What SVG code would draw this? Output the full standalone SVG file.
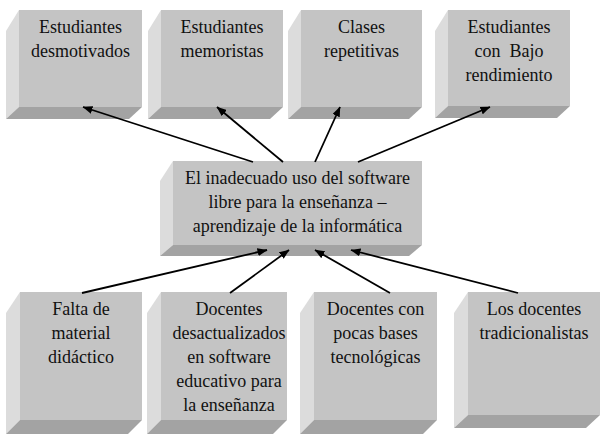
<svg xmlns="http://www.w3.org/2000/svg" width="601" height="441" viewBox="0 0 601 441">
<style>
.front{fill:#c4c4c4}
.left{fill:#dcdcdc}
.bottom{fill:#a3a3a3}
text{font-family:"Liberation Serif","Times New Roman",serif;font-size:18px;fill:#111;text-anchor:middle;white-space:pre}
.conn line{stroke:#000;stroke-width:1.8;marker-end:url(#ah)}
</style>
<defs>
<marker id="ah" viewBox="0 0 10 8" refX="9.5" refY="4" markerWidth="10" markerHeight="8" markerUnits="userSpaceOnUse" orient="auto">
<path d="M0,0 L10,4 L0,8 Z" fill="#000"/>
</marker>
</defs>
<rect width="601" height="441" fill="#fff"/>
<g id="t1">
<polygon class="left" points="19,10 6,31 6,119 19,107"/>
<polygon class="bottom" points="19,107 142,107 129,119 6,119"/>
<rect class="front" x="19" y="10" width="123" height="97"/>
<text x="80.5" y="33">Estudiantes</text>
<text x="80.5" y="57">desmotivados</text>
</g>
<g id="t2">
<polygon class="left" points="161,10 148,31 148,119 161,107"/>
<polygon class="bottom" points="161,107 283,107 270,119 148,119"/>
<rect class="front" x="161" y="10" width="122" height="97"/>
<text x="222" y="33">Estudiantes</text>
<text x="222" y="57">memoristas</text>
</g>
<g id="t3">
<polygon class="left" points="301,10 288,31 288,119 301,107"/>
<polygon class="bottom" points="301,107 422,107 409,119 288,119"/>
<rect class="front" x="301" y="10" width="121" height="97"/>
<text x="361.5" y="33">Clases</text>
<text x="361.5" y="57">repetitivas</text>
</g>
<g id="t4">
<polygon class="left" points="448,10 435,31 435,118 448,106"/>
<polygon class="bottom" points="448,106 570,106 557,118 435,118"/>
<rect class="front" x="448" y="10" width="122" height="96"/>
<text x="509" y="33">Estudiantes</text>
<text x="509" y="57">con  Bajo</text>
<text x="509" y="81">rendimiento</text>
</g>
<g id="center">
<polygon class="left" points="173,161 160,181 160,256 173,245"/>
<polygon class="bottom" points="173,245 422,245 409,256 160,256"/>
<rect class="front" x="173" y="161" width="249" height="84"/>
<text x="297.5" y="184">El inadecuado uso del software</text>
<text x="297.5" y="208">libre para la enseñanza –</text>
<text x="297.5" y="232">aprendizaje de la informática</text>
</g>
<g id="b1">
<polygon class="left" points="20,292 6,313 6,434 20,420"/>
<polygon class="bottom" points="20,420 142,420 128,434 6,434"/>
<rect class="front" x="20" y="292" width="122" height="128"/>
<text x="81" y="315">Falta de</text>
<text x="81" y="339">material</text>
<text x="81" y="363">didáctico</text>
</g>
<g id="b2">
<polygon class="left" points="161,292 147,313 147,434 161,420"/>
<polygon class="bottom" points="161,420 287,420 273,434 147,434"/>
<rect class="front" x="161" y="292" width="126" height="128"/>
<text x="229" y="315">Docentes</text>
<text x="229" y="339">desactualizados</text>
<text x="229" y="363">en software</text>
<text x="229" y="387">educativo para</text>
<text x="229" y="411">la enseñanza</text>
</g>
<g id="b3">
<polygon class="left" points="314,292 300,313 300,434 314,420"/>
<polygon class="bottom" points="314,420 437,420 423,434 300,434"/>
<rect class="front" x="314" y="292" width="123" height="128"/>
<text x="375.5" y="315">Docentes con</text>
<text x="375.5" y="339">pocas bases</text>
<text x="375.5" y="363">tecnológicas</text>
</g>
<g id="b4">
<polygon class="left" points="468,292 454,313 454,428 468,415"/>
<polygon class="bottom" points="468,415 600,415 586,428 454,428"/>
<rect class="front" x="468" y="292" width="132" height="123"/>
<text x="534" y="315">Los docentes</text>
<text x="534" y="339">tradicionalistas</text>
</g>
<g id="connectors" class="conn">
<line x1="253" y1="162" x2="83" y2="107"/>
<line x1="283" y1="162" x2="217" y2="107"/>
<line x1="315" y1="162" x2="340" y2="107"/>
<line x1="358" y1="162" x2="490" y2="107"/>
<line x1="82" y1="293" x2="267" y2="250"/>
<line x1="230" y1="293" x2="289" y2="250"/>
<line x1="390" y1="293" x2="315" y2="250"/>
<line x1="518" y1="293" x2="351" y2="250"/>
</g>
</svg>
